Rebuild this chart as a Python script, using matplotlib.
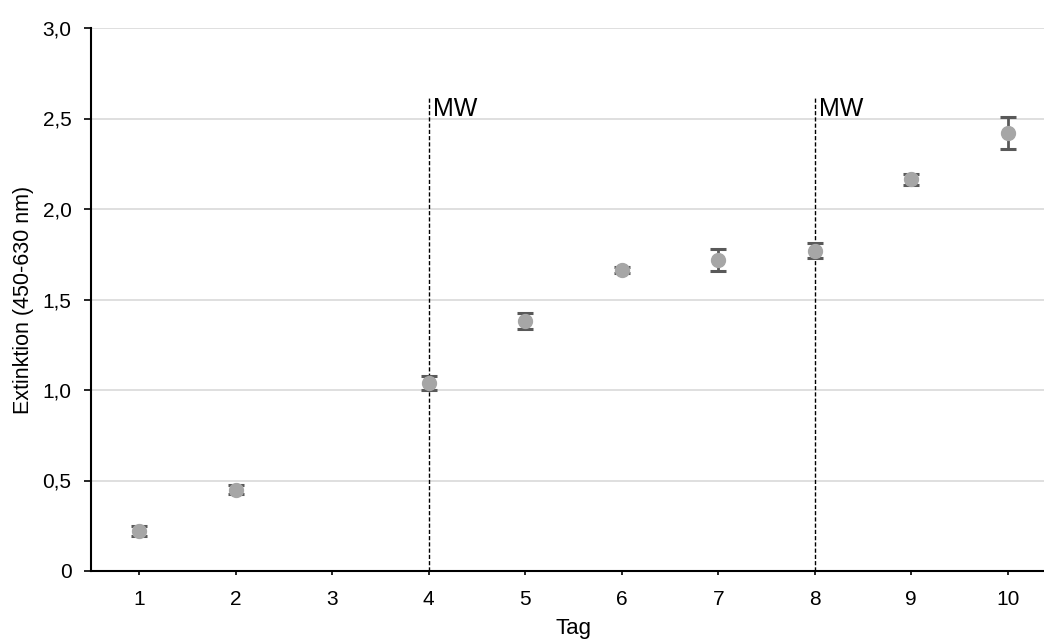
import matplotlib
matplotlib.use("Agg")
import matplotlib.pyplot as plt

plt.rcParams['font.family'] = ['Liberation Sans', 'DejaVu Sans']

days = [1, 2, 4, 5, 6, 7, 8, 9, 10]
extinction = [0.221, 0.448, 1.04, 1.381, 1.663, 1.718, 1.77, 2.165, 2.42]
errors = [0.025, 0.025, 0.04, 0.046, 0.015, 0.063, 0.04, 0.03, 0.09]
mw_days = [4, 8]
mw_top = 2.62
xticks = list(range(1, 11))
yticks = [0, 0.5, 1.0, 1.5, 2.0, 2.5, 3.0]
ytick_labels = ['0', '0,5', '1,0', '1,5', '2,0', '2,5', '3,0']

fig = plt.figure(figsize=(10.44, 6.41), dpi=100)
ax = fig.add_axes([91/1044, 70/641, (1056-91)/1044, (571-28)/641])

for y in yticks[1:]:
    ax.axhline(y, color='#d9d9d9', lw=1.2, zorder=0)

ax.errorbar(days, extinction, yerr=errors, fmt='o', color='#a6a6a6', ms=10,
            ecolor='#595959', elinewidth=2, capsize=5.5, capthick=2.2, zorder=3)

for d in mw_days:
    ax.plot([d, d], [0, mw_top], ls=(0, (3, 1.5)), color='black', lw=1.0, zorder=2)
    ax.text(d + 0.04, mw_top, 'MW', fontsize=18, va='top', ha='left')

ax.set_xlim(0.5, 10.5)
ax.set_ylim(0, 3.0)
ax.set_xticks(xticks)
ax.set_xticklabels([str(x) for x in xticks], fontsize=15)
ax.set_yticks(yticks)
ax.set_yticklabels(ytick_labels, fontsize=15)
ax.tick_params(axis='x', direction='out', length=3, width=1.2, pad=11)
ax.tick_params(axis='y', direction='out', length=5, width=1.2, pad=9)
for s in ['top', 'right']:
    ax.spines[s].set_visible(False)
for s in ['left', 'bottom']:
    ax.spines[s].set_linewidth(1.5)
ax.set_xlabel('Tag', fontsize=16, labelpad=6)
ax.set_ylabel('Extinktion (450-630 nm)', fontsize=15.5, labelpad=6)

fig.savefig('out.png', dpi=100)
